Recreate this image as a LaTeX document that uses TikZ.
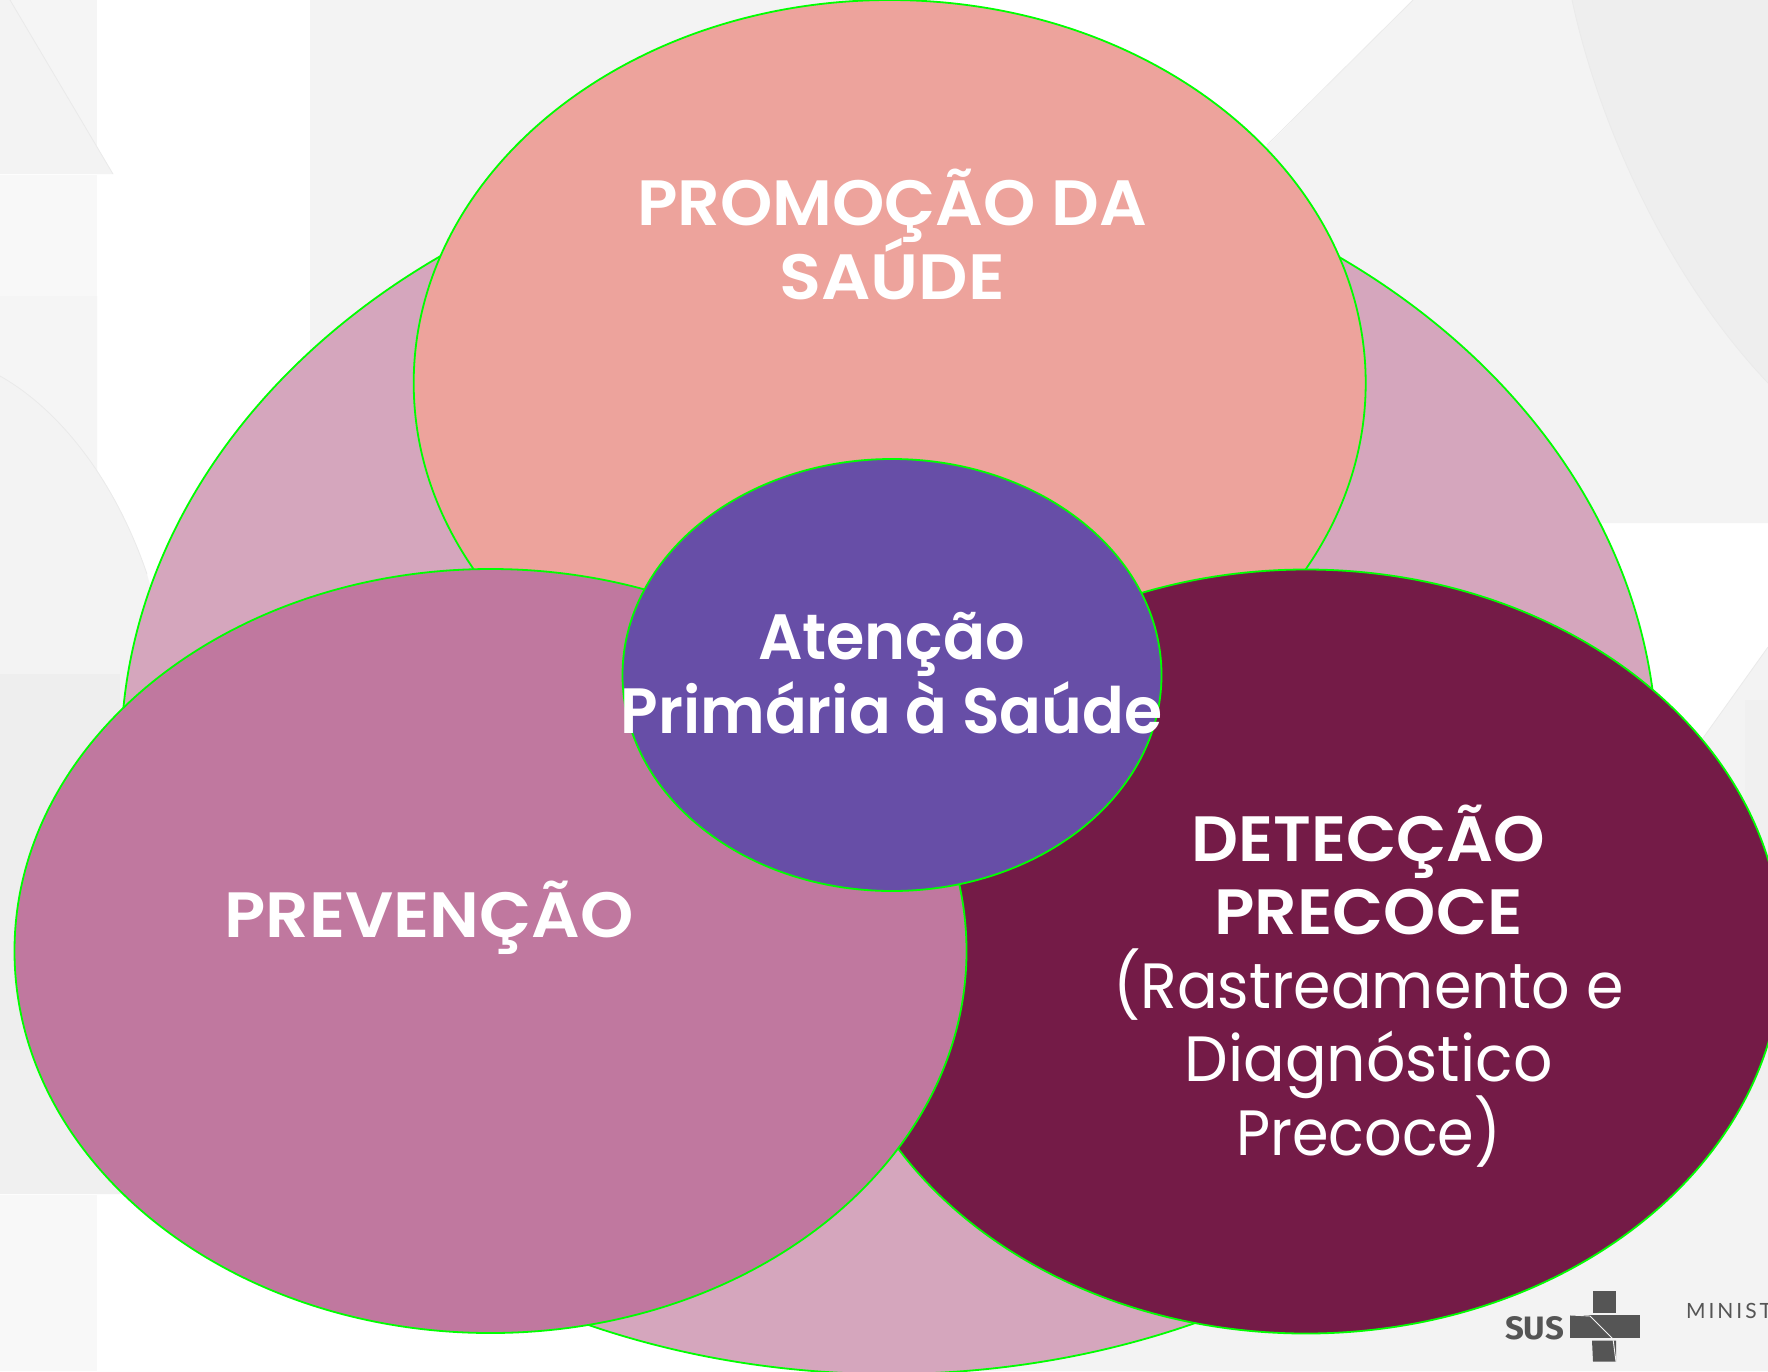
\documentclass[tikz,border=0pt]{standalone}
\usepackage{graphicx}
\usepackage{fontspec}
\setmainfont{Poppins}
\newfontfamily\semib{Poppins SemiBold}
\newfontfamily\logofont[LetterSpace=14]{Lato}
\newfontfamily\susfont{Fira Sans}
\usetikzlibrary{shapes.geometric}
\definecolor{bigfill}{HTML}{D5A6BD}
\definecolor{topfill}{HTML}{EDA39C}
\definecolor{leftfill}{HTML}{C0789F}
\definecolor{rightfill}{HTML}{741B47}
\definecolor{midfill}{HTML}{674EA7}
\definecolor{ringgreen}{HTML}{00FF00}
\definecolor{panel}{HTML}{F3F3F3}
\definecolor{panelb}{HTML}{EEEEEE}
\definecolor{panelc}{HTML}{F0F0F0}
\definecolor{panell}{HTML}{F8F8F8}
\definecolor{panelv}{HTML}{F5F5F5}
\definecolor{seam}{HTML}{EAEAEA}
\definecolor{logogray}{HTML}{555555}
\newcommand{\fitline}[2]{\resizebox{#1pt}{\height}{#2}}
\newcommand{\lblfont}{\fontsize{64}{73.4}\selectfont\setlength{\lineskiplimit}{-200pt}}
\tikzset{
  blob/.style={ellipse,draw=ringgreen,line width=1.8pt,inner sep=0pt,outer sep=0pt},
  lbl/.style={text=white,align=center,anchor=base,inner sep=0pt,outer sep=0pt,font=\lblfont},
  crosspart/.style={fill=logogray,draw=none},
}
\begin{document}
\begin{tikzpicture}[x=1pt,y=-1pt]
\useasboundingbox (0,0) rectangle (1768,1371);
\clip (0,0) rectangle (1768,1371);
% background panels
\fill[white] (0,0) rectangle (1768,1371);
\fill[panel] (310,0) rectangle (900,420);
\fill[panel] (1413,0) -- (1768,0) -- (1768,523) -- (1100,523) -- (1100,313) -- cycle;
\fill[panelb] (1572,0) .. controls (1600,130) and (1670,280) .. (1768,383) -- (1768,0) -- cycle;
\draw[seam,line width=0.8pt] (1572,0) .. controls (1600,130) and (1670,280) .. (1768,383);
\draw[seam,line width=0.8pt] (1413,0) -- (1267,145);
\fill[panel] (1768,647) -- (1703,738) -- (1500,900) -- (889,1250) -- (889,1371) -- (1768,1371) -- cycle;
\draw[seam,line width=0.8pt] (1768,647) -- (1703,738);
\fill[panelc] (1745,700) rectangle (1768,1100);
% left strip
\fill[panelv] (0,0) rectangle (97,172);
\fill[panel] (10,0) -- (113,174) -- (0,174) -- (0,0) -- cycle;
\draw[seam,line width=0.8pt] (10,0) -- (113,174);
\fill[panell] (0,175) rectangle (97,376);
\fill[panelv] (0,296) -- (97,296) -- (97,473) -- (0,376) -- cycle;
\fill[panel] (0,376) .. controls (60,410) and (115,480) .. (147,574) -- (200,760) -- (200,1194) -- (0,1194) -- cycle;
\draw[seam,line width=0.8pt] (0,376) .. controls (60,410) and (115,480) .. (147,574);
\fill[panelb] (0,674) rectangle (120,1100);
\fill[panelc] (0,1060) rectangle (200,1194);
\fill[panell] (0,1195) rectangle (97,1371);
% circles
\node[blob,fill=bigfill,minimum width=1536pt,minimum height=1234pt] (big) at (889,757) {};
\node[blob,fill=topfill,minimum width=952pt,minimum height=766pt] (promo) at (889.7,383) {};
\node[blob,fill=rightfill,minimum width=952pt,minimum height=764pt] (detect) at (1306,951.5) {};
\node[blob,fill=leftfill,minimum width=952pt,minimum height=764pt] (prev) at (490.5,951) {};
\node[blob,fill=midfill,minimum width=539pt,minimum height=432pt] (aps) at (892,675) {};
% labels
\node[lbl] (tpromo) at (892,299) {\semib\fitline{510}{PROMOÇÃO DA}\\\semib\fitline{225.5}{SAÚDE}};
\node[lbl] (tprev) at (429,937) {\semib\fitline{409}{PREVENÇÃO}};
\node[lbl] (taps) at (891.5,733) {\semib\fitline{267}{Atenção}\\\semib\fitline{541.5}{Primária à Saúde}};
\node[lbl] (tdet) at (1368.5,1155) {\semib\fitline{353.6}{DETECÇÃO}\\\semib\fitline{308}{PRECOCE}\\\fitline{511}{(Rastreamento e}\\\fitline{368}{Diagnóstico}\\\fitline{265}{Precoce)}};
% logo
\fill[crosspart] (1593.3,1291.3) rectangle (1616,1313.3);
\fill[crosspart] (1570,1315) rectangle (1640,1338.3);
\fill[crosspart] (1592,1340.7) -- (1616,1340.7) -- (1616,1361.7) -- (1593,1361.7) -- cycle;
\draw[panel,line width=0.9pt] (1570,1315) -- (1590,1316) -- (1613,1339) -- (1616,1361.7);
\node[anchor=base,inner sep=0pt,text=logogray,font=\susfont\bfseries] (sus) at (1534.5,1339) {\resizebox{59pt}{23pt}{SUS}};
\node[anchor=base west,inner sep=0pt,text=logogray,font=\logofont\fontsize{21}{24}\selectfont] (min) at (1686,1318) {MINIST};
\end{tikzpicture}
\end{document}
